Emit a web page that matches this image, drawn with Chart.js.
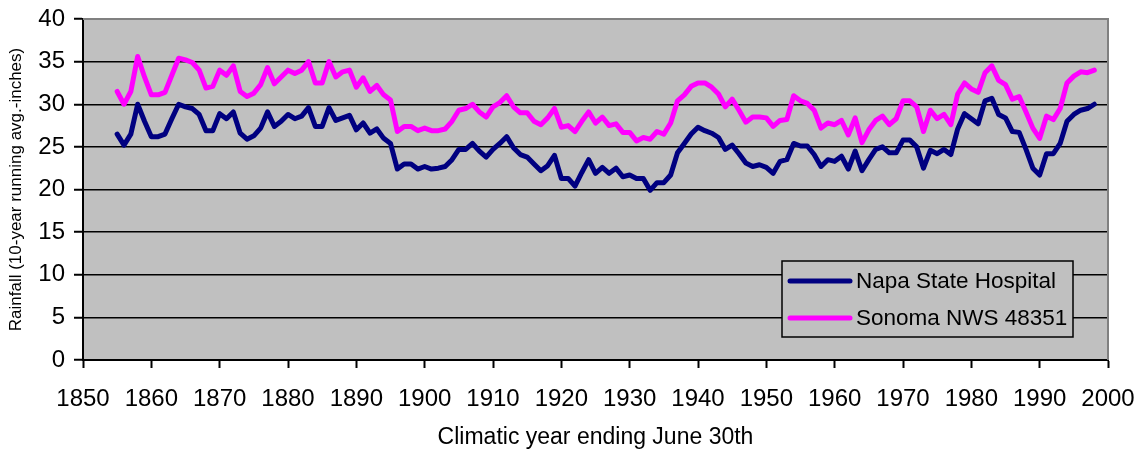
<!DOCTYPE html>
<html>
<head>
<meta charset="utf-8">
<script src="https://cdn.jsdelivr.net/npm/chart.js@4"></script>
<style>
  html, body { margin: 0; padding: 0; background: #fff; }
  #wrap { width: 1138px; height: 455px; }
</style>
</head>
<body>
<div id="wrap"><canvas id="rainChart" width="1138" height="455"></canvas></div>
<script>
// ----------- Data -----------
const firstYear = 1855;
const napa = [
  26.5, 25.2, 26.5, 30.0, 28.0, 26.2, 26.2, 26.5, 28.3, 30.0,
  29.7, 29.5, 28.8, 26.9, 26.9, 28.9, 28.3, 29.1, 26.6, 25.9,
  26.3, 27.2, 29.1, 27.4, 28.0, 28.8, 28.3, 28.6, 29.6, 27.4,
  27.4, 29.6, 28.1, 28.4, 28.7, 27.0, 27.8, 26.6, 27.1, 26.0,
  25.4, 22.4, 23.0, 23.0, 22.4, 22.7, 22.4, 22.5, 22.7, 23.5,
  24.7, 24.7, 25.4, 24.5, 23.8, 24.7, 25.4, 26.2, 24.9, 24.1,
  23.8, 23.0, 22.2, 22.8, 24.0, 21.3, 21.3, 20.4, 22.0, 23.5,
  21.9, 22.6, 21.9, 22.5, 21.5, 21.7, 21.3, 21.3, 19.9, 20.8,
  20.8, 21.7, 24.3, 25.4, 26.5, 27.3, 26.9, 26.6, 26.1, 24.7,
  25.2, 24.2, 23.1, 22.7, 22.9, 22.6, 21.9, 23.3, 23.5, 25.4,
  25.1, 25.1, 24.1, 22.7, 23.5, 23.3, 23.9, 22.4, 24.5, 22.2,
  23.5, 24.7, 25.0, 24.3, 24.3, 25.8, 25.8, 25.0, 22.5, 24.6,
  24.2, 24.7, 24.1, 27.1, 28.9, 28.3, 27.7, 30.4, 30.7, 28.8,
  28.4, 26.8, 26.7, 24.7, 22.5, 21.7, 24.2, 24.2, 25.4, 28.0,
  28.8, 29.3, 29.5, 30.0
];
const sonoma = [
  31.5, 30.0, 31.5, 35.6, 33.2, 31.1, 31.1, 31.4, 33.4, 35.4,
  35.2, 34.9, 34.0, 31.9, 32.1, 34.0, 33.4, 34.5, 31.5, 30.9,
  31.3, 32.3, 34.3, 32.4, 33.2, 34.0, 33.6, 34.0, 35.0, 32.5,
  32.5, 35.0, 33.2, 33.8, 34.0, 32.0, 33.1, 31.5, 32.2, 31.1,
  30.5, 26.8, 27.4, 27.4, 26.9, 27.2, 26.9, 26.9, 27.1, 28.0,
  29.3, 29.5, 30.0, 29.1, 28.5, 29.7, 30.2, 31.0, 29.7, 29.0,
  29.0, 28.0, 27.6, 28.4, 29.5, 27.3, 27.5, 26.8, 28.0, 29.1,
  27.8, 28.5, 27.5, 27.7, 26.7, 26.7, 25.7, 26.1, 25.9, 26.8,
  26.5, 27.8, 30.4, 31.1, 32.1, 32.5, 32.5, 32.0, 31.2, 29.7,
  30.6, 29.3, 27.9, 28.5, 28.5, 28.4, 27.4, 28.1, 28.2, 31.0,
  30.4, 30.1, 29.3, 27.2, 27.8, 27.6, 28.1, 26.4, 28.4, 25.5,
  27.0, 28.1, 28.6, 27.6, 28.3, 30.4, 30.4, 29.7, 26.8, 29.3,
  28.3, 28.8, 27.6, 31.2, 32.5, 31.8, 31.4, 33.7, 34.5, 32.8,
  32.3, 30.6, 30.9, 29.1, 27.2, 26.0, 28.6, 28.2, 29.5, 32.5,
  33.3, 33.8, 33.7, 34.0
];
const seriesLabels = ['Napa State Hospital', 'Sonoma NWS 48351'];
const seriesColors = ['#000080', '#FF00FF'];
const xTitle = 'Climatic year ending June 30th';
const yTitle = 'Rainfall (10-year running avg.-inches)';

const years = napa.map((_, i) => firstYear + i);
function pts(arr) { return arr.map((v, i) => ({ x: years[i], y: v })); }

const fontFam = '"Liberation Sans", Arial, sans-serif';

// ----------- Plugins -----------
const plotBg = {
  id: 'plotBg',
  beforeDraw(chart) {
    const { ctx, chartArea: a } = chart;
    ctx.save();
    ctx.fillStyle = '#C0C0C0';
    ctx.fillRect(a.left, a.top, a.right - a.left, a.bottom - a.top);
    ctx.restore();
  },
  afterDatasetsDraw(chart) {
    const { ctx, chartArea: a } = chart;
    ctx.save();
    ctx.strokeStyle = '#808080';
    ctx.lineWidth = 2;
    ctx.beginPath();
    ctx.moveTo(a.left, a.top);
    ctx.lineTo(a.right, a.top);
    ctx.lineTo(a.right, a.bottom);
    ctx.stroke();
    ctx.restore();
  }
};

const boxLegend = {
  id: 'boxLegend',
  afterDraw(chart) {
    const { ctx } = chart;
    const x = 782, y = 261, w = 291, h = 76;
    ctx.save();
    ctx.fillStyle = '#C0C0C0';
    ctx.fillRect(x, y, w, h);
    ctx.strokeStyle = '#000';
    ctx.lineWidth = 1.5;
    ctx.strokeRect(x, y, w, h);
    ctx.font = '22.5px ' + fontFam;
    ctx.textBaseline = 'middle';
    chart.data.datasets.forEach((ds, i) => {
      const cy = y + 20 + i * 37;
      ctx.strokeStyle = ds.borderColor;
      ctx.lineWidth = 5;
      ctx.lineCap = 'round';
      ctx.beginPath();
      ctx.moveTo(790, cy);
      ctx.lineTo(850, cy);
      ctx.stroke();
      ctx.fillStyle = '#000';
      ctx.fillText(ds.label, 856, cy + 1);
    });
    ctx.restore();
  }
};

// ----------- Chart -----------
new Chart(document.getElementById('rainChart'), {
  type: 'line',
  data: {
    datasets: [
      { label: seriesLabels[0], data: pts(napa), borderColor: seriesColors[0], borderWidth: 5,
        pointRadius: 0, tension: 0, borderJoinStyle: 'round', borderCapStyle: 'round' },
      { label: seriesLabels[1], data: pts(sonoma), borderColor: seriesColors[1], borderWidth: 5,
        pointRadius: 0, tension: 0, borderJoinStyle: 'round', borderCapStyle: 'round' }
    ]
  },
  options: {
    responsive: false,
    animation: false,
    layout: { padding: { top: 19, right: 30, left: 0, bottom: 0 } },
    plugins: {
      legend: { display: false },
      tooltip: { enabled: false }
    },
    scales: {
      x: {
        type: 'linear',
        min: 1850, max: 2000,
        afterFit: (s) => { s.height = 95; s.paddingLeft = 0; s.paddingRight = 0; },
        ticks: {
          stepSize: 10,
          color: '#000',
          padding: 17,
          maxRotation: 0,
          font: { family: fontFam, size: 24 },
          callback: (v) => String(v)
        },
        grid: { drawOnChartArea: false, drawTicks: true, tickLength: 8, tickColor: '#000', tickWidth: 2 },
        border: { color: '#000', width: 2 },
        title: {
          display: true, text: xTitle, color: '#000',
          font: { family: fontFam, size: 23 },
          padding: { top: 0, bottom: 4 }
        }
      },
      y: {
        min: 0, max: 40,
        afterFit: (s) => { s.width = 83; s.paddingTop = 0; s.paddingBottom = 0; },
        ticks: {
          stepSize: 5,
          color: '#000',
          padding: 9,
          font: { family: fontFam, size: 24 }
        },
        grid: {
          color: (c) => (c.tick && c.tick.value === 40 ? '#808080' : '#000'),
          lineWidth: 1.5,
          tickLength: 9,
          tickColor: '#000',
          tickWidth: 2
        },
        border: { color: '#000', width: 2 },
        title: {
          display: true, text: yTitle, color: '#000',
          font: { family: fontFam, size: 17 },
          padding: { top: 6, bottom: 0 }
        }
      }
    }
  },
  plugins: [plotBg, boxLegend]
});
</script>
</body>
</html>
